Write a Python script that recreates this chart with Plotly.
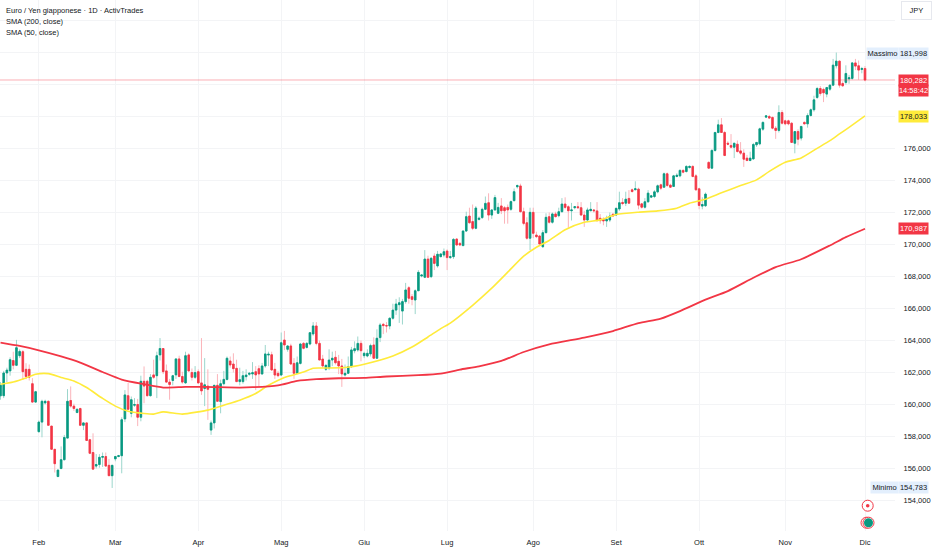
#!/usr/bin/env python
"""Euro / Yen daily candles with SMA 200 and SMA 50, values read off the chart."""

import numpy as np
import plotly.graph_objects as go

# daily candles, oldest first
opens = [
    160.54, 160.55, 161.97, 162.1, 162.75, 162.45, 163.05, 163.3, 162.2, 162.2,
    161.3, 160.15, 158.3, 158.9, 160.1, 160.2, 158.65, 157.2, 155.5, 156.0,
    156.55, 157.9, 160.25, 159.9, 159.5, 159.75, 158.7, 158.85, 157.8, 157.0,
    156.15, 156.25, 156.7, 156.75, 156.2, 155.55, 156.6, 156.75, 156.8, 159.1,
    160.55, 159.45, 159.95, 160.0, 159.2, 161.45, 161.45, 160.55, 161.85, 161.8,
    163.1, 163.5, 162.1, 161.4, 161.5, 161.85, 162.85, 161.75, 161.35, 163.1,
    162.0, 161.7, 162.05, 161.35, 161.0, 161.15, 158.4, 158.85, 161.2, 160.18,
    161.3, 161.57, 162.72, 162.53, 162.26, 161.43, 161.43, 161.74, 161.89, 161.91,
    162.05, 162.24, 161.91, 162.41, 163.09, 163.11, 162.2, 161.95, 161.84, 164.03,
    163.45, 163.66, 162.57, 161.95, 162.57, 163.82, 163.57, 163.78, 164.41, 164.91,
    163.82, 162.84, 162.2, 162.28, 162.78, 162.95, 162.7, 162.41, 161.84, 161.95,
    162.36, 163.36, 163.41, 163.82, 163.05, 163.03, 163.16, 163.72, 162.89, 164.18,
    165.01, 164.93, 164.91, 165.39, 165.9, 166.24, 165.84, 166.43, 167.3, 166.74,
    166.53, 167.11, 168.03, 167.95, 169.09, 167.99, 169.28, 168.66, 169.24, 169.34,
    169.59, 169.18, 169.24, 170.34, 170.07, 169.93, 170.84, 171.78, 171.43, 171.01,
    171.57, 171.68, 172.2, 172.61, 171.84, 172.16, 171.95, 172.41, 172.3, 172.32,
    172.2, 172.74, 173.61, 173.66, 172.05, 171.36, 170.39, 172.01, 170.59, 170.53,
    169.86, 170.74, 171.74, 171.39, 171.91, 171.8, 172.05, 172.53, 172.36, 172.11,
    172.3, 172.36, 172.3, 171.84, 171.53, 172.11, 172.16, 172.1, 171.64, 171.57,
    171.47, 171.53, 171.89, 171.84, 172.22, 172.63, 172.58, 172.88, 173.42, 173.42,
    173.46, 172.54, 172.33, 172.67, 172.96, 173.0, 173.29, 173.73, 173.58, 174.42,
    173.71, 173.63, 174.25, 174.29, 174.63, 174.56, 174.81, 174.88, 174.29, 173.48,
    172.4, 172.42, 175.13, 174.77, 175.88, 177.0, 177.48, 177.0, 176.33, 176.19,
    176.08, 176.27, 175.85, 175.71, 175.4, 175.25, 175.35, 176.23, 176.29, 177.21,
    177.96, 178.0, 177.94, 177.27, 177.13, 178.25, 177.73, 177.73, 177.58, 176.33,
    177.06, 176.65, 177.63, 177.54, 178.06, 178.42, 179.19, 179.75, 179.69, 179.4,
    179.71, 179.96, 181.17, 181.46, 180.06, 180.13, 180.35, 180.38, 181.35, 181.17,
    180.94, 181.0,
]
highs = [
    161.4, 162.1, 162.3, 162.95, 163.3, 164.04, 163.45, 163.4, 162.58, 162.5,
    161.65, 160.85, 159.0, 160.3, 160.3, 160.25, 158.65, 157.2, 155.95, 157.38,
    158.1, 160.96, 161.13, 160.05, 159.75, 159.8, 158.9, 158.9, 157.85, 158.2,
    156.9, 156.9, 157.0, 157.0, 156.6, 156.2, 156.79, 156.85, 159.2, 160.9,
    161.35, 160.5, 160.4, 160.35, 161.8, 162.38, 161.55, 161.9, 162.8, 163.3,
    164.15, 163.5, 162.5, 161.6, 161.85, 162.85, 163.05, 162.05, 163.3, 163.2,
    162.25, 162.4, 162.2, 164.15, 162.9, 162.2, 159.0, 161.2, 161.9, 161.55,
    162.1, 163.0, 163.0, 163.2, 162.8, 162.3, 162.1, 162.2, 162.0, 162.65,
    162.4, 162.45, 162.6, 163.72, 163.3, 163.3, 162.6, 162.1, 164.5, 164.6,
    163.7, 163.8, 162.9, 163.0, 163.85, 163.9, 163.9, 164.5, 165.15, 165.15,
    164.0, 163.1, 162.5, 163.45, 163.3, 163.35, 163.1, 162.85, 162.5, 163.0,
    163.6, 163.95, 164.25, 164.0, 163.3, 163.45, 163.8, 164.2, 164.7, 165.1,
    165.1, 165.15, 165.45, 166.3, 166.6, 166.7, 166.6, 167.6, 167.4, 166.9,
    167.2, 168.4, 168.15, 169.65, 169.3, 169.2, 169.45, 169.6, 169.45, 169.75,
    169.7, 169.6, 170.4, 170.4, 170.15, 170.9, 172.05, 172.3, 172.5, 172.4,
    171.75, 172.3, 173.0, 173.2, 172.2, 173.1, 172.6, 172.9, 172.4, 172.5,
    172.75, 173.5, 173.75, 173.8, 172.3, 171.7, 172.3, 172.3, 170.8, 170.6,
    170.9, 171.95, 172.0, 172.0, 172.05, 172.3, 172.9, 172.95, 172.45, 172.6,
    172.4, 172.65, 172.65, 172.1, 172.3, 172.65, 172.2, 172.65, 171.9, 171.7,
    171.8, 172.0, 171.95, 172.3, 173.3, 172.9, 173.3, 173.4, 173.5, 173.95,
    173.55, 172.6, 172.9, 173.4, 173.1, 173.4, 173.75, 173.8, 174.5, 174.5,
    173.8, 174.35, 174.45, 174.7, 174.7, 174.95, 174.95, 174.95, 174.4, 173.55,
    172.95, 173.25, 175.2, 175.95, 177.05, 177.8, 177.9, 177.1, 176.45, 176.9,
    176.33, 176.5, 176.4, 175.95, 175.6, 175.8, 176.35, 176.4, 177.3, 177.7,
    178.05, 178.1, 178.0, 177.4, 178.7, 178.4, 177.8, 177.8, 177.65, 177.1,
    177.2, 177.4, 177.7, 178.2, 178.5, 179.3, 179.85, 179.9, 179.8, 179.85,
    180.0, 181.6, 181.998, 181.5, 180.2, 181.2, 180.6, 181.4, 181.6, 181.5,
    181.1, 181.15,
]
lows = [
    160.3, 160.4, 161.4, 161.8, 162.2, 162.4, 162.9, 161.54, 161.58, 161.5,
    160.1, 160.1, 158.25, 157.95, 160.0, 158.7, 157.2, 155.75, 155.45, 155.95,
    156.5, 157.9, 159.8, 159.6, 159.45, 158.7, 158.4, 157.75, 156.9, 155.95,
    156.0, 156.05, 156.1, 156.15, 155.55, 154.783, 156.45, 156.7, 155.7, 158.9,
    159.65, 159.2, 159.85, 158.65, 158.95, 160.08, 160.5, 160.5, 161.6, 160.4,
    162.75, 161.9, 161.35, 160.3, 161.2, 161.6, 161.7, 161.3, 161.3, 162.05,
    161.5, 161.6, 161.3, 160.6, 159.9, 159.04, 158.1, 158.5, 160.2, 159.45,
    161.2, 161.5, 162.3, 162.0, 161.4, 161.2, 161.3, 161.5, 161.8, 161.6,
    160.9, 161.1, 161.85, 162.3, 162.4, 162.1, 161.6, 161.7, 161.8, 163.4,
    163.3, 162.5, 161.6, 161.9, 162.5, 163.45, 163.5, 163.7, 164.3, 163.7,
    162.78, 162.3, 162.1, 162.15, 162.4, 162.5, 161.9, 161.1, 161.75, 161.9,
    162.3, 163.2, 163.3, 162.7, 162.9, 162.95, 163.0, 162.85, 162.85, 163.9,
    164.4, 164.5, 164.7, 165.3, 165.6, 165.1, 165.0, 166.3, 166.3, 166.2,
    165.65, 167.1, 167.95, 167.9, 167.95, 167.9, 168.4, 168.55, 169.2, 169.2,
    168.4, 169.1, 169.1, 169.9, 169.9, 169.9, 170.8, 171.3, 170.9, 170.95,
    171.5, 171.6, 172.15, 171.5, 171.6, 172.1, 171.9, 171.9, 171.3, 171.3,
    172.1, 172.7, 173.5, 172.0, 171.2, 170.3, 169.65, 170.4, 170.4, 169.9,
    169.8, 170.7, 171.3, 171.3, 171.7, 171.7, 172.0, 172.2, 171.05, 171.5,
    172.2, 172.25, 171.8, 171.1, 171.4, 172.1, 172.0, 171.45, 171.3, 171.2,
    171.1, 171.4, 171.75, 171.8, 172.1, 172.45, 172.4, 172.55, 173.25, 173.4,
    172.2, 172.25, 172.25, 172.6, 172.9, 172.9, 173.2, 173.4, 173.55, 173.6,
    173.55, 173.6, 174.2, 174.2, 174.45, 174.5, 174.75, 174.2, 173.35, 172.2,
    172.2, 172.35, 174.77, 174.75, 175.8, 176.95, 177.0, 175.56, 176.2, 176.0,
    175.4, 175.75, 175.6, 174.85, 175.2, 175.2, 175.3, 176.1, 176.2, 177.1,
    177.9, 177.85, 177.2, 176.6, 177.0, 177.5, 177.45, 177.45, 176.35, 175.7,
    176.2, 176.5, 177.5, 177.3, 178.0, 178.3, 179.1, 179.3, 178.9, 179.2,
    179.6, 179.9, 181.0, 179.8, 179.85, 180.0, 180.05, 180.3, 180.9, 180.3,
    180.7, 180.2,
]
closes = [
    161.2, 161.97, 162.15, 162.8, 162.45, 163.55, 163.32, 162.05, 161.75, 161.7,
    160.15, 160.8, 158.9, 160.2, 160.2, 158.7, 157.2, 156.3, 155.9, 156.55,
    157.94, 160.2, 159.9, 159.75, 159.7, 158.7, 158.85, 157.75, 156.95, 155.96,
    156.25, 156.7, 156.75, 156.15, 155.55, 156.2, 156.75, 156.8, 159.05, 160.6,
    159.7, 160.3, 160.0, 159.2, 161.45, 161.15, 160.55, 161.7, 161.7, 163.05,
    163.5, 162.05, 161.4, 161.25, 161.8, 162.85, 161.75, 161.4, 163.05, 162.1,
    161.7, 162.0, 161.35, 160.85, 161.23, 160.95, 158.85, 161.2, 160.2, 161.3,
    161.57, 162.89, 162.47, 162.24, 161.43, 161.55, 161.8, 161.84, 161.95, 161.99,
    161.85, 161.91, 162.41, 163.16, 163.14, 162.16, 161.84, 161.8, 163.86, 163.72,
    163.66, 162.53, 161.95, 162.61, 163.78, 163.51, 163.82, 164.49, 164.91, 163.82,
    162.78, 162.41, 162.45, 162.78, 162.89, 162.61, 162.41, 161.91, 161.95, 162.36,
    163.41, 163.49, 163.82, 163.36, 163.2, 163.2, 163.68, 162.89, 164.14, 164.97,
    164.93, 164.91, 165.39, 165.9, 166.28, 166.36, 166.43, 167.16, 166.64, 166.57,
    167.11, 168.26, 168.09, 169.09, 167.95, 169.14, 168.82, 169.39, 169.41, 169.55,
    169.18, 169.24, 170.32, 169.97, 169.97, 170.84, 171.74, 171.36, 171.01, 172.28,
    171.64, 172.2, 172.57, 171.84, 172.16, 172.93, 172.32, 172.11, 172.11, 172.16,
    172.68, 173.3, 173.68, 172.05, 171.32, 170.39, 172.01, 170.7, 170.49, 170.03,
    170.74, 171.7, 171.39, 171.91, 171.74, 172.05, 172.53, 172.32, 172.11, 172.16,
    172.36, 172.3, 171.84, 171.53, 172.16, 172.2, 172.11, 171.49, 171.49, 171.47,
    171.57, 171.78, 171.78, 172.26, 172.61, 172.56, 172.83, 172.58, 173.31, 173.48,
    172.46, 172.33, 172.67, 173.21, 173.04, 173.29, 173.67, 173.52, 174.42, 173.69,
    173.58, 174.29, 174.33, 174.63, 174.52, 174.88, 174.88, 174.25, 173.42, 172.44,
    172.5, 173.15, 174.77, 175.88, 177.0, 177.48, 177.0, 175.56, 176.27, 176.08,
    176.33, 175.81, 175.71, 175.33, 175.25, 175.4, 176.25, 176.38, 177.23, 177.63,
    178.04, 177.9, 177.27, 177.13, 178.25, 177.58, 177.54, 177.54, 176.38, 177.06,
    176.58, 177.38, 177.54, 178.06, 178.42, 179.04, 179.75, 179.44, 179.48, 179.81,
    179.96, 181.21, 181.46, 179.96, 179.92, 180.69, 180.42, 181.35, 181.15, 180.9,
    181.0, 180.28,
]

# moving averages, read at the points where the curve bends
sma200_bars = [0, 6, 12, 19, 25, 32, 38, 45, 51, 58, 64, 75, 79, 87, 93, 99, 106, 114, 121, 131,
               138, 144, 150, 157, 164, 172, 183, 192, 200, 207, 213, 221, 228, 236, 243, 251, 260, 265, 271]
sma200 = [163.87, 163.66, 163.39, 163.01, 162.62, 162.03, 161.56, 161.27, 161.06, 161.10,
          161.10, 161.06, 161.08, 161.20, 161.47, 161.58, 161.64, 161.66, 161.75, 161.83,
          161.93, 162.18, 162.39, 162.72, 163.28, 163.76, 164.18, 164.59, 165.09, 165.37,
          165.84, 166.55, 167.09, 167.92, 168.59, 169.08, 169.94, 170.46, 170.987]

sma50_bars = [0, 4, 8, 11, 15, 19, 23, 27, 32, 36, 40, 45, 48, 51, 57, 62, 65, 70, 75, 80,
              84, 89, 95, 98, 102, 108, 114, 123, 129, 134, 138, 141, 148, 154, 159, 164, 168,
              172, 177, 183, 188, 193, 200, 206, 212, 216, 221, 226, 232, 237, 241, 246, 251,
              256, 260, 263, 266, 271]
sma50 = [161.27, 161.41, 161.66, 161.89, 161.93, 161.69, 161.47, 161.06, 160.38, 159.90,
         159.58, 159.44, 159.40, 159.54, 159.40, 159.54, 159.65, 159.96, 160.27, 160.69,
         161.20, 161.69, 162.03, 162.27, 162.28, 162.31, 162.52, 163.03, 163.59, 164.22,
         164.74, 165.09, 166.20, 167.27, 168.27, 169.27, 169.83, 170.25, 170.92, 171.39,
         171.54, 171.87, 172.02, 172.10, 172.27, 172.58, 172.83, 173.23, 173.68, 174.04,
         174.57, 175.14, 175.41, 176.01, 176.49, 176.91, 177.32, 178.033]

month_labels = ["Feb", "Mar", "Apr", "Mag", "Giu", "Lug", "Ago", "Set", "Ott", "Nov", "Dic"]
month_bars = [12, 36, 62, 88, 114, 140, 167, 193, 219, 246, 271]

# price gridlines; the top ones sit behind the tags, so their labels stay empty
price_ticks = [154, 156, 158, 160, 162, 164, 166, 168, 170, 172, 174, 176, 178, 180, 182, 184]
price_labels = ["154,000", "156,000", "158,000", "160,000", "162,000", "164,000", "166,000", "168,000",
                "170,000", "172,000", "174,000", "176,000", "", "", "", ""]

last_price = 180.282
countdown = "14:58:42"
sma200_last = 170.987
sma50_last = 178.033
high_price = 181.998
low_price = 154.783
title_lines = ["Euro / Yen giapponese · 1D · ActivTrades", "SMA (200, close)", "SMA (50, close)"]

GREEN = "#089981"
RED = "#F23645"
YELLOW = "#FFEB3B"
GRID = "#F3F4F6"
TEXT = "#131722"
FONT = "Liberation Sans"
FONT_SIZE = 7.5

W, H = 932, 550
PLOT_W, PLOT_H = 895, 531
BAR_PX = 3.19
LAST_X = 865
PX_PER_UNIT = 16.0
Y154 = 500.5


def paper_x(px):
    return px / PLOT_W


def paper_y(py):
    return 1 - py / PLOT_H


def fmt(value):
    return f"{value:.3f}".replace(".", ",")


bars = np.arange(len(opens))
o, c = np.array(opens), np.array(closes)

fig = go.Figure()

# wicks, paler than the bodies
fig.add_trace(go.Candlestick(
    x=bars, open=opens, high=highs, low=lows, close=closes,
    increasing=dict(line=dict(color="#9CD6CC", width=1), fillcolor="#9CD6CC"),
    decreasing=dict(line=dict(color="#FBB4BA", width=1), fillcolor="#FBB4BA"),
    whiskerwidth=0, hoverinfo="skip", showlegend=False,
))
# bodies on top
fig.add_trace(go.Candlestick(
    x=bars, open=opens, high=np.maximum(o, c), low=np.minimum(o, c), close=closes,
    increasing=dict(line=dict(color=GREEN, width=0.8), fillcolor=GREEN),
    decreasing=dict(line=dict(color=RED, width=0.8), fillcolor=RED),
    whiskerwidth=0, hoverinfo="skip", showlegend=False,
))
fig.add_trace(go.Scatter(x=sma50_bars, y=sma50, mode="lines",
                         line=dict(color=YELLOW, width=1.6, shape="spline", smoothing=0.6),
                         hoverinfo="skip", showlegend=False))
fig.add_trace(go.Scatter(x=sma200_bars, y=sma200, mode="lines",
                         line=dict(color=RED, width=1.8, shape="spline", smoothing=0.6),
                         hoverinfo="skip", showlegend=False))

# current price line
fig.add_hline(y=last_price, line=dict(color="rgba(242,54,69,0.4)", width=1))

annotations = []
for text, py in zip(title_lines, [11, 22, 33]):
    annotations.append(dict(text=text, xref="paper", yref="paper", x=paper_x(4), y=paper_y(py),
                            xanchor="left", yanchor="middle", showarrow=False,
                            font=dict(family=FONT, size=FONT_SIZE, color=TEXT)))


def price_tag(text, price, bg, color, x_left=898, width=29, height=11, shift=0):
    annotations.append(dict(text=text, xref="paper", yref="y", x=paper_x(x_left), y=price,
                            xanchor="left", yanchor="middle", showarrow=False, yshift=shift,
                            width=width, height=height, bgcolor=bg, align="center", borderpad=0,
                            font=dict(family=FONT, size=FONT_SIZE, color=color)))


price_tag("Massimo", high_price, "#E3EFFD", TEXT, x_left=866, width=31, shift=-1)
price_tag(fmt(high_price), high_price, "#E3EFFD", TEXT, shift=-1)
# red label is two stacked rows: price and time to close
price_tag(fmt(last_price), last_price, RED, "#FFFFFF", shift=-0.5)
price_tag(countdown, last_price, RED, "#FFFFFF", shift=-10.5)
price_tag(fmt(sma50_last), sma50_last, YELLOW, TEXT, shift=-1)
price_tag(fmt(sma200_last), sma200_last, RED, "#FFFFFF")
price_tag("Minimo", low_price, "#E3EFFD", TEXT, x_left=870, width=27)
price_tag(fmt(low_price), low_price, "#E3EFFD", TEXT)

annotations.append(dict(text="JPY", xref="paper", yref="paper", x=paper_x(901), y=paper_y(11),
                        xanchor="left", yanchor="middle", showarrow=False, width=27, height=15,
                        bgcolor="#FFFFFF", bordercolor="#E6E8EE", borderwidth=1,
                        font=dict(family=FONT, size=FONT_SIZE, color=TEXT)))


def circle(cx, cy, r, **style):
    return dict(type="circle", xref="paper", yref="paper",
                x0=paper_x(cx - r), x1=paper_x(cx + r), y0=paper_y(cy + r), y1=paper_y(cy - r), **style)


shapes = [
    circle(867.7, 505.7, 5.5, line=dict(color=RED, width=1), fillcolor="#FFFFFF"),
    circle(867.7, 505.7, 1.8, line=dict(width=0), fillcolor=RED),
    circle(866.5, 522.7, 5.5, line=dict(color=RED, width=1), fillcolor="#FFFFFF"),
    circle(868.5, 522.7, 5.5, line=dict(color=RED, width=1), fillcolor="#FFFFFF"),
    circle(868.5, 522.7, 4.5, line=dict(width=0), fillcolor=GREEN),
]
for shape in shapes:
    fig.add_shape(**shape)

last_bar = len(opens) - 1
x_left = last_bar - LAST_X / BAR_PX
x_right = last_bar + (PLOT_W - LAST_X) / BAR_PX

fig.update_layout(
    width=W, height=H, autosize=False,
    margin=dict(l=0, r=W - PLOT_W, t=0, b=H - PLOT_H, pad=0),
    paper_bgcolor="#FFFFFF", plot_bgcolor="#FFFFFF",
    font=dict(family=FONT, size=FONT_SIZE, color=TEXT),
    annotations=annotations,
    xaxis=dict(range=[x_left, x_right], rangeslider=dict(visible=False), automargin=False,
               tickmode="array", tickvals=month_bars, ticktext=month_labels,
               showgrid=True, gridcolor=GRID, gridwidth=1, zeroline=False, showline=False,
               ticks="outside", ticklen=4, tickcolor="rgba(0,0,0,0)",
               tickfont=dict(family=FONT, size=FONT_SIZE, color=TEXT)),
    yaxis=dict(side="right", range=[154 - (PLOT_H - Y154) / PX_PER_UNIT, 154 + Y154 / PX_PER_UNIT],
               tickmode="array", tickvals=price_ticks, ticktext=price_labels, automargin=False,
               showgrid=True, gridcolor=GRID, gridwidth=1, zeroline=False, showline=False,
               ticks="outside", ticklen=6, tickcolor="rgba(0,0,0,0)",
               tickfont=dict(family=FONT, size=FONT_SIZE, color=TEXT)),
)

fig.write_html("out.html", config={"displayModeBar": False},
               post_script="document.body.style.margin = '0';")
